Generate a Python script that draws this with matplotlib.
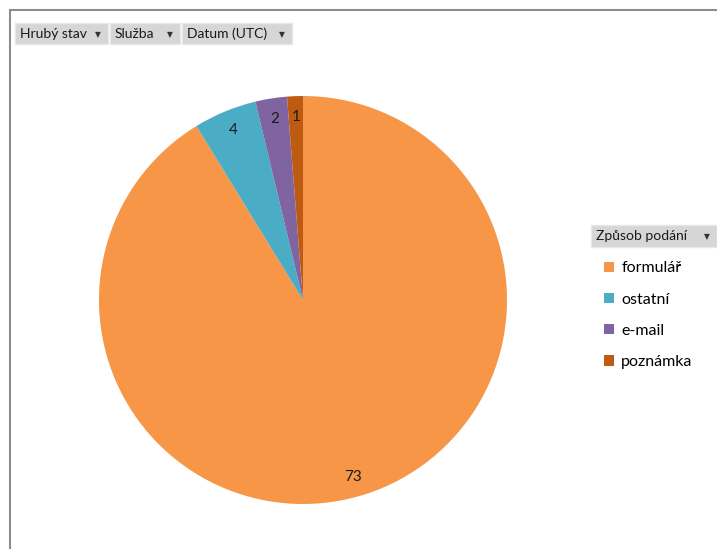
import matplotlib
matplotlib.use("Agg")
import matplotlib.pyplot as plt
from matplotlib.patches import Rectangle

plt.rcParams["font.family"] = ["Lato", "DejaVu Sans"]

categories = ["formulář", "ostatní", "e-mail", "poznámka"]
values = [73, 4, 2, 1]
colors = ["#F79646", "#4BACC6", "#8064A2", "#BE5B12"]
filters = ["Hrubý stav", "Služba", "Datum (UTC)"]
legend_title = "Způsob podání"

W, H = 717, 549
fig = plt.figure(figsize=(W / 100, H / 100), dpi=100)


def px(x, y):
    # pixel coords (from top-left) -> figure fraction
    return x / W, 1 - y / H


# outer frame (left and top edges visible)
fig.patches.append(Rectangle(px(10, 600), 800 / W, 590 / H, transform=fig.transFigure,
                             fill=False, edgecolor="#8c8c8c", linewidth=1.5))

# pie
cx, cy, r = 303, 300, 204
ax = fig.add_axes([(cx - r) / W, (H - cy - r) / H, 2 * r / W, 2 * r / H])
total = sum(values)
wedges, texts, autotexts = ax.pie(
    values, colors=colors, startangle=90, counterclock=False,
    autopct=lambda p: f"{round(p * total / 100)}", pctdistance=0.9,
    wedgeprops=dict(linewidth=0),
    textprops=dict(fontsize=11, color="#1a1a1a"),
)
ax.set_xlim(-1, 1)
ax.set_ylim(-1, 1)
ax.set_aspect("equal")
ax.axis("off")


def button(x0, x1, y0, y1, label):
    fig.patches.append(Rectangle(px(x0, y1), (x1 - x0) / W, (y1 - y0) / H,
                                 transform=fig.transFigure, facecolor="#d6d6d6",
                                 edgecolor="#e8e8e8", linewidth=1))
    xt, yt = px(x0 + 5, (y0 + y1) / 2)
    fig.text(xt, yt, label, fontsize=10, va="center", ha="left", color="#1a1a1a")
    xa, ya = px(x1 - 10, (y0 + y1) / 2 + 1)
    fig.text(xa, ya, "▼", fontsize=5.5, va="center", ha="center", color="#333333",
             family="DejaVu Sans")


# filter buttons
edges = [(15, 108), (110, 180), (182, 292)]
for (x0, x1), lab in zip(edges, filters):
    button(x0, x1, 23, 44, lab)

# legend
button(591, 717, 225, 247, legend_title)
leg = fig.legend(wedges, categories, loc="upper left", bbox_to_anchor=px(598, 255),
                 frameon=False, fontsize=11.5, handlelength=0.6, handleheight=0.6,
                 handletextpad=0.45, labelspacing=1.08, borderaxespad=0)

fig.savefig("out.png", dpi=100, facecolor="white")
